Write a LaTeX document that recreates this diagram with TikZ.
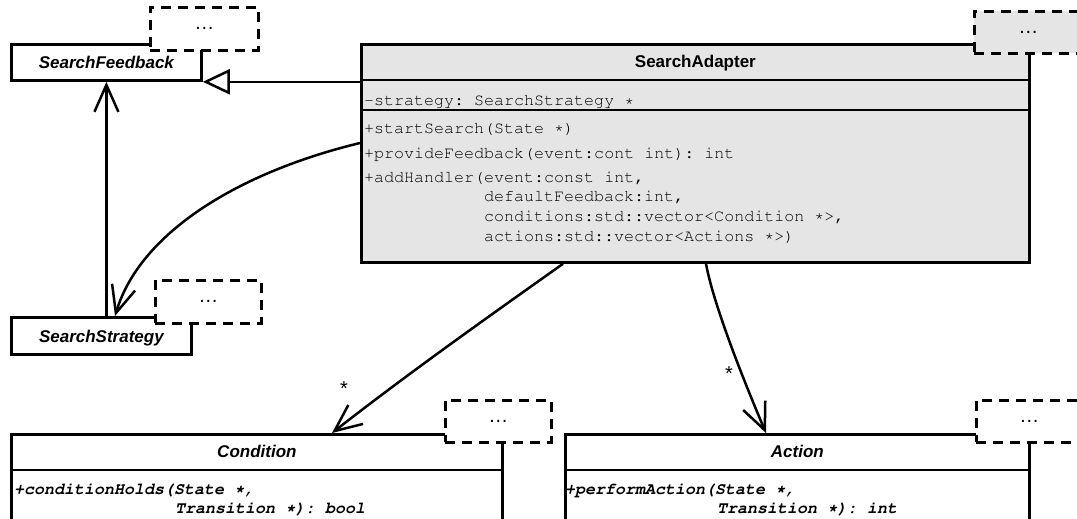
\documentclass[tikz,border=0pt]{standalone}
\usepackage[T1]{fontenc}
\usepackage{fontspec}
\setsansfont{Liberation Sans}
\usetikzlibrary{arrows.meta}

\newcommand{\codefont}{\fontencoding{T1}\fontfamily{pcr}\fontsize{16.67}{20}\selectfont\frenchspacing}
\newcommand{\namefont}{\sffamily\bfseries\fontsize{17}{20}\selectfont}
\definecolor{adaptergray}{gray}{0.9}

\tikzset{
  classbox/.style={draw, line width=2.8pt, fill=white, anchor=north west, inner sep=0pt},
  tplbox/.style={draw, line width=2.6pt, dash pattern=on 10pt off 7pt, fill=white,
    anchor=north west, inner sep=0pt, minimum width=106pt, minimum height=42pt,
    font=\sffamily\fontsize{20}{20}\selectfont},
  classname/.style={font=\namefont, text height=12.2pt, text depth=0pt, inner sep=0pt},
  member/.style={font=\codefont, anchor=base west, inner sep=0pt},
  absmember/.style={member, font=\codefont\bfseries\itshape},
  assoc/.style={line width=2.5pt, -{Straight Barb[length=27pt, width=24pt]}},
  inherit/.style={line width=2.5pt, -{Triangle[length=27pt, width=25pt, fill=white]}},
  mult/.style={font=\sffamily\fontsize{20}{20}\selectfont, inner sep=0pt}
}

\begin{document}
\begin{tikzpicture}[x=1pt, y=-1pt]
   \useasboundingbox (0,0) rectangle (1077,519);
   \clip (0,0) rectangle (1077,519);

   % class boxes
   \node[classbox, classname, font=\namefont\itshape, minimum width=190pt, minimum height=36pt] (feedback) at (10,43) {SearchFeedback};
   \node[classbox, classname, font=\namefont\itshape, minimum width=180pt, minimum height=37pt] (strategy) at (10,316) {SearchStrategy};
   \node[classbox, fill=adaptergray, minimum width=668pt, minimum height=218pt] (adapter) at (360,43) {};
   \node[classbox, minimum width=491pt, minimum height=130pt] (cond) at (10,433) {};
   \node[classbox, minimum width=464pt, minimum height=130pt] (action) at (564,433) {};

   % compartments
   \draw[line width=2.8pt] ([yshift=-37pt]adapter.north west) -- ([yshift=-37pt]adapter.north east);
   \draw[line width=2.8pt] ([yshift=-67pt]adapter.north west) -- ([yshift=-67pt]adapter.north east);
   \draw[line width=2.8pt] ([yshift=-37pt]cond.north west) -- ([yshift=-37pt]cond.north east);
   \draw[line width=2.8pt] ([yshift=-37pt]action.north west) -- ([yshift=-37pt]action.north east);

   % template parameter boxes
   \node[tplbox, minimum width=108pt, minimum height=43pt] (feedbackTpl) at (149,6) {…};
   \node[tplbox, minimum height=43pt] (strategyTpl) at (154,279) {…};
   \node[tplbox, fill=adaptergray, minimum width=108pt] (adapterTpl) at (973,10) {…};
   \node[tplbox] (condTpl) at (444,399) {…};
   \node[tplbox] (actionTpl) at (975,399) {…};

   % names
   \node[classname] (adapterName) at ([yshift=-18.5pt]adapter.north) {SearchAdapter};
   \node[classname, font=\namefont\itshape] (condName) at ([yshift=-18.5pt]cond.north) {Condition};
   \node[classname, font=\namefont\itshape] (actionName) at ([yshift=-18.5pt]action.north) {Action};

   % members of SearchAdapter
   \node[member] (attrStrategy) at (364,106) {-strategy: SearchStrategy *};
   \node[member] (opStart) at (364,133) {+startSearch(State *)};
   \node[member] (opFeedback) at (364,158) {+provideFeedback(event:cont int): int};
   \node[member] (opHandler) at (364,182) {+addHandler(event:const int,};
   \node[member] (opHandlerB) at (484,201) {defaultFeedback:int,};
   \node[member] (opHandlerC) at (484,221) {conditions:std::vector<Condition *>,};
   \node[member] (opHandlerD) at (484,241) {actions:std::vector<Actions *>)};

   % members of Condition and Action
   \node[absmember] (opHolds) at (14,494) {+conditionHolds(State *,};
   \node[absmember] (opHoldsB) at (175,513) {Transition *): bool};
   \node[absmember] (opPerform) at (565,494) {+performAction(State *,};
   \node[absmember] (opPerformB) at (717,513) {Transition *): int};

   % relations
   \draw[inherit] (adapter.west |- feedback.south) -- (feedback.south east);
   \draw[assoc] (feedback.south |- strategy.north) -- (feedback.south);
   \draw[assoc] ([yshift=-100pt]adapter.north west) .. controls (240,172) and (140,232) .. ([xshift=105pt]strategy.north west);
   \draw[assoc] ([xshift=203pt]adapter.south west) .. controls (495,312) and (410,372) .. ([xshift=322pt]cond.north west);
   \draw[assoc] ([xshift=346pt]adapter.south west) .. controls (714,307) and (746,386) .. ([xshift=202pt]action.north west);

   \node[mult] (condMult) at (344,389) {*};
   \node[mult] (actionMult) at (729,374) {*};
\end{tikzpicture}
\end{document}
